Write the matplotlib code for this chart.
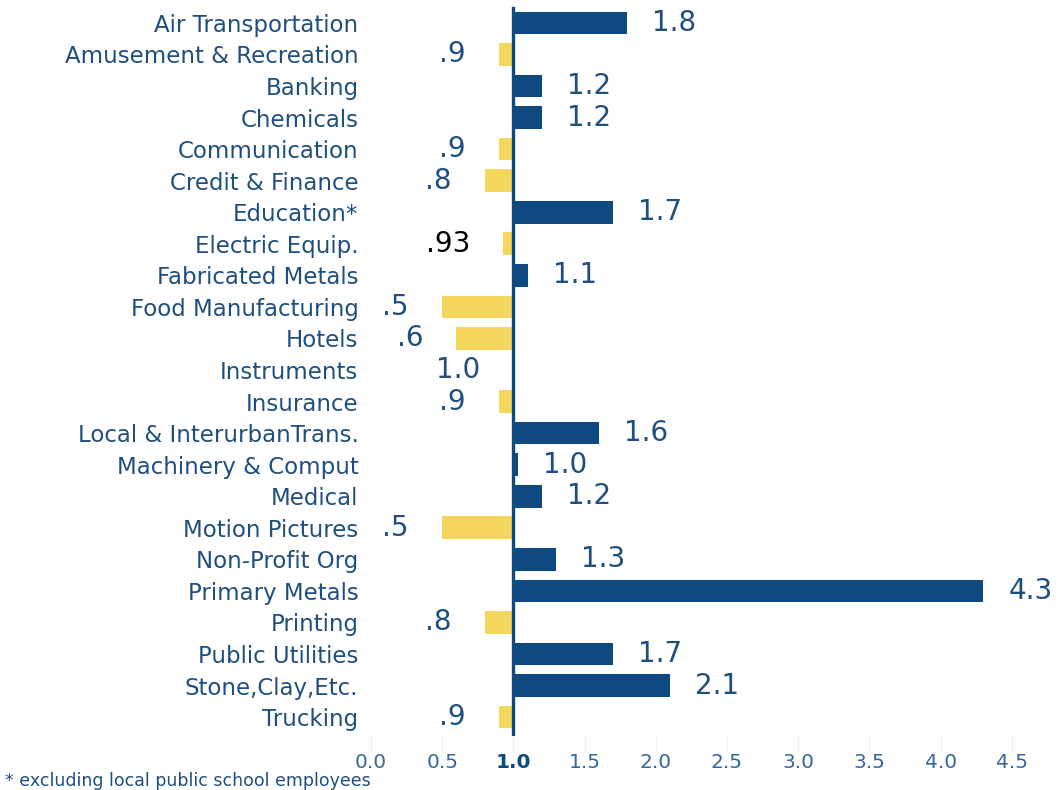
import matplotlib
matplotlib.use("Agg")
import matplotlib.pyplot as plt

# location quotients by industry (1.0 = national average)
industries = [
    "Air Transportation", "Amusement & Recreation", "Banking", "Chemicals",
    "Communication", "Credit & Finance", "Education*", "Electric Equip.",
    "Fabricated Metals", "Food Manufacturing", "Hotels", "Instruments",
    "Insurance", "Local & InterurbanTrans.", "Machinery & Comput", "Medical",
    "Motion Pictures", "Non-Profit Org", "Primary Metals", "Printing",
    "Public Utilities", "Stone,Clay,Etc.", "Trucking",
]
values = [1.8, 0.9, 1.2, 1.2, 0.9, 0.8, 1.7, 0.93, 1.1, 0.5, 0.6, 1.0,
          0.9, 1.6, 1.03, 1.2, 0.5, 1.3, 4.3, 0.8, 1.7, 2.1, 0.9]
labels = ["1.8", ".9", "1.2", "1.2", ".9", ".8", "1.7", ".93", "1.1", ".5",
          ".6", "1.0", ".9", "1.6", "1.0", "1.2", ".5", "1.3", "4.3", ".8",
          "1.7", "2.1", ".9"]
xticks = [0.0, 0.5, 1.0, 1.5, 2.0, 2.5, 3.0, 3.5, 4.0, 4.5]

BLUE = "#0e4a80"
YELLOW = "#f4d65c"
TXT = "#1f4f7f"
BASE = 1.0

plt.rcParams["font.family"] = ["DejaVu Sans"]

fig = plt.figure(figsize=(10.58, 7.9), dpi=100)
W, H = 1058, 790
x0, x1 = -0.03, 4.6
px_per = 142.4
left_px = 371 + x0 * px_per
right_px = 371 + x1 * px_per
top_px, bot_px = 4, 736
ax = fig.add_axes([left_px / W, 1 - bot_px / H,
                   (right_px - left_px) / W, (bot_px - top_px) / H])

y = list(range(len(industries)))
for yi, v, lab in zip(y, values, labels):
    col = BLUE if v > BASE else YELLOW
    ax.barh(yi, v - BASE, left=BASE, height=0.72, color=col, lw=0)
    if v > BASE:
        ax.annotate(lab, (v, yi), xytext=(18, 0), textcoords="offset points",
                    ha="left", va="center", fontsize=20, color=TXT)
    else:
        c = "black" if lab == ".93" else TXT
        ax.annotate(lab, (v, yi), xytext=(-24, 0), textcoords="offset points",
                    ha="right", va="center", fontsize=20, color=c)

ax.axvline(BASE, color=BLUE, lw=2.4, ymin=0.0, ymax=0.995)

ax.set_xlim(x0, x1)
ax.set_ylim(len(industries) - 0.4, -0.6)
ax.set_yticks(y)
ax.set_yticklabels(industries, fontsize=16.5, color=TXT)
ax.tick_params(axis="y", length=0, pad=6)
ax.set_xticks(xticks)
ax.set_xticklabels(["%.1f" % t for t in xticks], fontsize=14.5, color="#35679a")
ax.tick_params(axis="x", length=11, width=1, color="#eceff3", pad=1)
for t in ax.get_xticklabels():
    if t.get_text() == "1.0":
        t.set_fontweight("bold")
        t.set_color(BLUE)
for s in ax.spines.values():
    s.set_visible(False)

fig.text(5 / W, 1 - 781 / H, "* excluding local public school employees",
         fontsize=12.5, color=TXT, va="center")

fig.savefig("out.png", dpi=100)
